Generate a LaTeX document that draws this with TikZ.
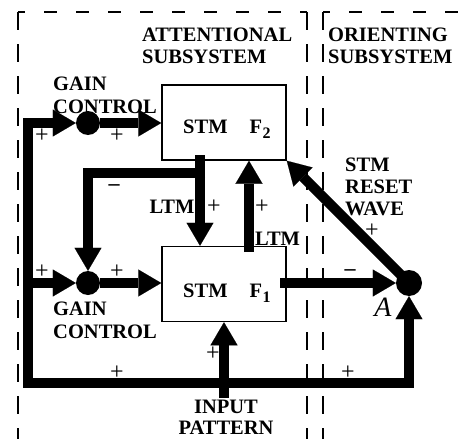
\documentclass[tikz,border=0pt]{standalone}
\usepackage{fontspec}
\setmainfont{Liberation Serif}
\usetikzlibrary{arrows.meta}
\begin{document}
\begin{tikzpicture}[x=1pt,y=-1pt,
  thk/.style={line width=10pt, line join=miter, line cap=butt},
  tip/.tip={Triangle[length=23pt,width=27pt,line width=0.1pt]},
  arr/.style={thk, -tip},
  box/.style={draw, line width=1.5pt, minimum width=124pt, minimum height=75pt, inner sep=0pt},
  dot/.style={circle, fill, inner sep=0pt, minimum size=24pt},
  lbl/.style={font=\fontsize{20.5}{22}\selectfont\bfseries, inner sep=0pt, align=left},
  pl/.style={font=\fontsize{24}{24}\selectfont, inner sep=0pt},
  mn/.style={font=\fontsize{22}{22}\selectfont\bfseries, inner sep=0pt},
  dshv/.style={line width=2pt, dash pattern=on 18pt off 14pt},
  dshh/.style={line width=2pt, dash pattern=on 13pt off 19pt, dash phase=6pt}]
\useasboundingbox (0,0) rectangle (458,439);
% dashed subsystem frames
\draw[dshv] (18,12) -- (18,439);
\draw[dshh] (18,12) -- (307,12);
\draw[dshv] (307,12) -- (307,439);
\draw[dshh] (323,12) -- (458,12);
\draw[dshv] (323,12) -- (323,439);
% boxes and dots
\node[box] (F2) at (224,122.5) {};
\node[box] (F1) at (224,284) {};
\node[dot] (g1) at (88,123) {};
\node[dot] (g2) at (88,283) {};
\node[dot, minimum size=26pt] (A) at (409,283) {};
% coordinates
\coordinate (c1) at (28,123);
\coordinate (c2) at (28,383);
\coordinate (c3) at (409,383);
\coordinate (c4) at (28,283);
\coordinate (d1) at (200,155);
\coordinate (d2) at (205,173);
\coordinate (u1) at (249,252);
\coordinate (r1) at (280,283);
\coordinate (in1) at (224,398);
% connectors
\draw[thk, tip-tip] (g1.west) -- (c1) -- (c2) -- (c3) -- (A.south);
\draw[arr] (g1.east) -- (F2.west |- g1);
\draw[arr] (c4) -- (g2.west);
\draw[arr] (g2.east) -- (F1.west |- g2);
\draw[arr] (d1) -- (d1 |- F1.north);
\draw[arr] (d2) -- (d2 -| g2) -- (g2.north);
\draw[arr] (u1) -- (u1 |- F2.south);
\draw[arr] (r1) -- (A.west);
\draw[arr] (A.center) -- (F2.south east);
\draw[arr] (in1) -- (in1 |- F1.south);
% texts
\node[lbl, anchor=north west] (attn) at (142,28) {ATTENTIONAL\\SUBSYSTEM};
\node[lbl, anchor=north west] (orient) at (328,28) {ORIENTING\\SUBSYSTEM};
\node[lbl, anchor=north west, font=\fontsize{20.5}{23}\selectfont\bfseries] (gc1t) at (53,77) {GAIN\\CONTROL};
\node[lbl, anchor=north west, font=\fontsize{20.5}{23}\selectfont\bfseries] (gc2t) at (53,302) {GAIN\\CONTROL};
\node[lbl, anchor=north west] (reset) at (345,158) {STM\\RESET\\WAVE};
\node[lbl, anchor=north, align=center, font=\fontsize{20.5}{21}\selectfont\bfseries] (inp) at (226,400) {INPUT\\PATTERN};
\node[lbl, anchor=base west] (t2) at (183,133) {STM\hspace{22pt}F\kern0.5pt\raisebox{-5pt}{\fontsize{16}{16}\selectfont 2}};
\node[lbl, anchor=base west] (t1) at (183,297) {STM\hspace{22pt}F\kern0.5pt\raisebox{-5pt}{\fontsize{16}{16}\selectfont 1}};
\node[lbl, anchor=base] (ltm1) at (172,213) {LTM};
\node[lbl, anchor=base west] (ltm2) at (255,245) {LTM};
\node[font=\fontsize{28}{28}\selectfont\itshape, inner sep=0pt] (Alab) at (383,307) {A};
% signs
\node[pl] (p1) at (42,136) {+};
\node[pl] (p2) at (117,136) {+};
\node[pl] (p3) at (42,272) {+};
\node[pl] (p4) at (117,272) {+};
\node[pl] (p5) at (117,373) {+};
\node[pl] (p6) at (348,373) {+};
\node[pl] (p7) at (213,354) {+};
\node[pl] (p8) at (214,207) {+};
\node[pl] (p9) at (262,207) {+};
\node[pl] (p10) at (372,231) {+};
\node[mn] (m1) at (114,188) {--};
\node[mn] (m2) at (350,273) {--};
\end{tikzpicture}
\end{document}
